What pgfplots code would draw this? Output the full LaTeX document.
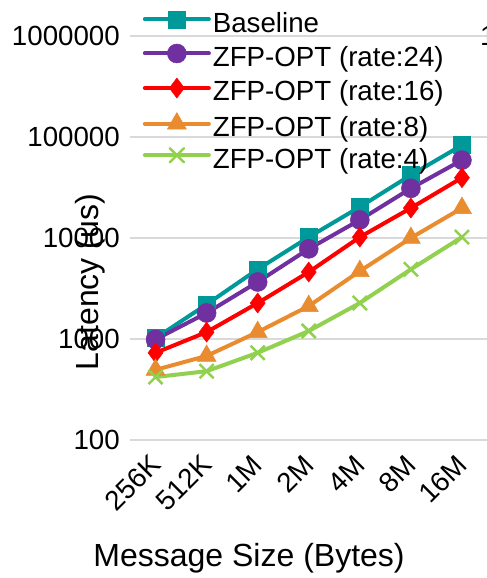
\documentclass[border=0pt]{standalone}
\usepackage{pgfplots}
\pgfplotsset{compat=1.18}
\usepackage{fontspec}
\setmainfont{Liberation Sans}
\definecolor{cBase}{RGB}{0,153,153}
\definecolor{cP}{RGB}{112,48,160}
\definecolor{cR}{RGB}{255,0,0}
\definecolor{cO}{RGB}{233,140,48}
\definecolor{cG}{RGB}{146,208,80}
\definecolor{gridc}{RGB}{217,217,217}
\newcommand{\fs}{\fontsize{27.7pt}{33pt}\selectfont}
\newcommand{\fl}{\fontsize{32pt}{38pt}\selectfont}
\begin{document}
\begin{tikzpicture}
\begin{axis}[
 at={(0pt,0pt)}, anchor=south west,
 scale only axis, width=357.5pt, height=404pt,
 ymode=log, ymin=100, ymax=1000000,
 xmin=-0.5, xmax=6.5,
 xtick={0,...,6}, xticklabels={256K,512K,1M,2M,4M,8M,16M},
 ytick={100,1000,10000,100000,1000000},
 yticklabels={100,1000,10000,100000,1000000},
 yminorticks=false,
 ymajorgrids, grid style={gridc, line width=1.5pt},
 axis line style={draw=none},
 major tick length=0pt, minor tick length=0pt,
 tick label style={font=\fs},
 xticklabel style={yshift=-20pt, rotate=45, anchor=east, inner sep=0pt},
 yticklabel style={anchor=east, inner sep=0pt, xshift=-10pt},
 xlabel={Message Size (Bytes)}, ylabel={Latency (us)},
 label style={font=\fl},
 xlabel style={at={(axis description cs:0.333,-0.292)}, anchor=center},
 ylabel style={at={(axis description cs:-0.112,0.391)}, anchor=center},
 legend style={draw=none, fill=none, at={(axis description cs:0.036,1.062)}, anchor=north west,
   inner sep=0pt, outer sep=0pt, row sep=-1.5pt, font=\fs, column sep=2pt,
   nodes={inner sep=0pt, text height=19pt, text depth=13.1pt}},
 legend cell align=left,
 legend image code/.code={\draw[mark repeat=2, mark phase=2, line cap=round] plot coordinates {(0pt,10pt)(32pt,10pt)(64pt,10pt)};},
 clip=false,
]
\addplot[color=cBase, line width=4pt, mark=square*, mark size=8.5pt, mark options={solid, line width=0.5pt}]
 coordinates {(0,1020)(1,2200)(2,4900)(3,10200)(4,20300)(5,42000)(6,83000)};
\addlegendentry{Baseline}
\addplot[color=cP, line width=4pt, mark=*, mark size=9.5pt, mark options={solid, line width=0.5pt}]
 coordinates {(0,990)(1,1810)(2,3670)(3,7800)(4,15100)(5,31000)(6,59000)};
\addlegendentry{ZFP-OPT (rate:24)}
\addplot[color=cR, line width=4pt, mark=diamond*, mark size=10pt, mark options={solid, line width=0.5pt}]
 coordinates {(0,730)(1,1170)(2,2270)(3,4600)(4,10200)(5,19800)(6,39500)};
\addlegendentry{ZFP-OPT (rate:16)}
\addplot[color=cO, line width=4pt, mark=triangle*, mark size=11pt, mark options={solid, line width=0.5pt}]
 coordinates {(0,495)(1,680)(2,1170)(3,2120)(4,4700)(5,10000)(6,19800)};
\addlegendentry{ZFP-OPT (rate:8)}
\addplot[color=cG, line width=4pt, mark=x, mark size=10pt, mark options={solid, line width=2.5pt}]
 coordinates {(0,420)(1,480)(2,730)(3,1200)(4,2270)(5,4900)(6,10200)};
\addlegendentry{ZFP-OPT (rate:4)}
\node[anchor=west, inner sep=0pt, font=\fs] at (axis description cs:0.979,1) {1000000};
\end{axis}
\pgfresetboundingbox
\path (-130pt,-138pt) rectangle (357pt,440pt);
\end{tikzpicture}
\end{document}
